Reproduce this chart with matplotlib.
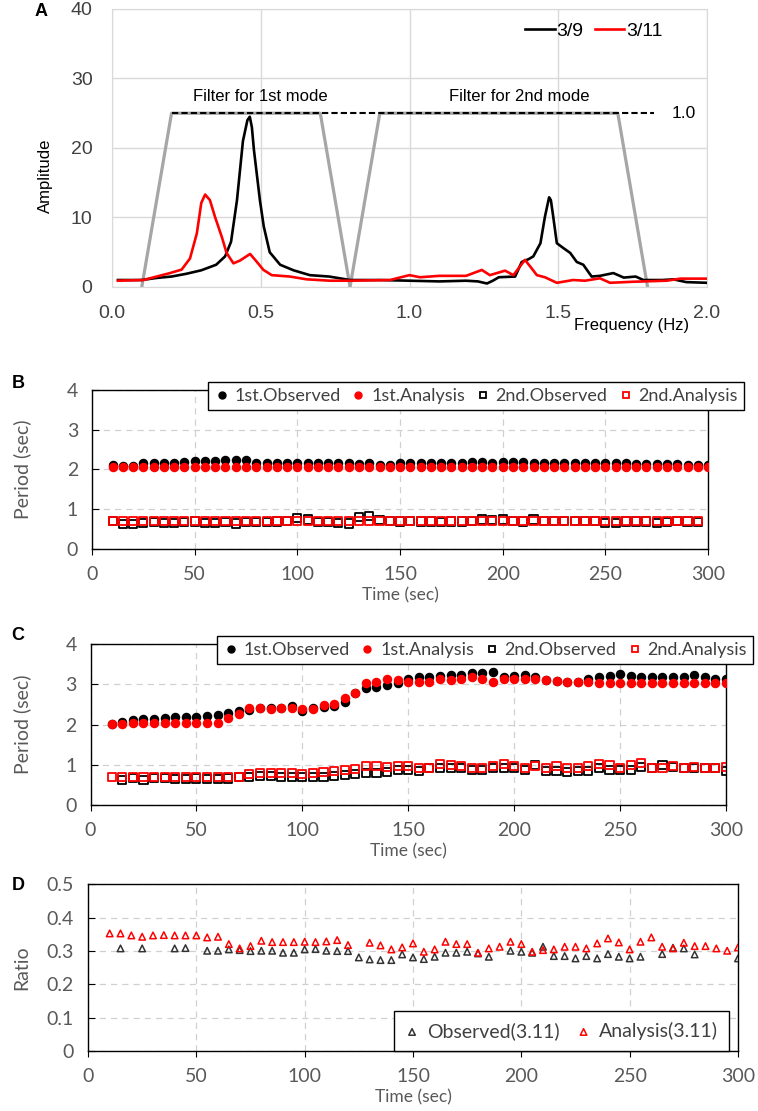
import numpy as np
import matplotlib
matplotlib.use("Agg")
import matplotlib.pyplot as plt
from matplotlib.lines import Line2D

# -------------------------------------------------------------------
# Panel A: Fourier spectra
# -------------------------------------------------------------------
freq_0309 = [0.02, 0.05, 0.10, 0.15, 0.20, 0.25, 0.30, 0.35, 0.38, 0.40, 0.42, 0.44, 0.455,
             0.463, 0.47, 0.477, 0.497, 0.51, 0.53, 0.565, 0.61, 0.665, 0.73, 0.80, 0.90,
             1.00, 1.10, 1.19, 1.23, 1.26, 1.28, 1.30, 1.355, 1.377, 1.40, 1.416, 1.44,
             1.455, 1.469, 1.475, 1.483, 1.495, 1.517, 1.54, 1.562, 1.584, 1.612, 1.64,
             1.685, 1.72, 1.76, 1.786, 1.85, 1.887, 1.93, 2.00]
amp_0309 = [1.0, 1.0, 1.0, 1.3, 1.5, 1.9, 2.4, 3.2, 4.4, 6.5, 12.5, 21.0, 24.0,
            24.5, 23.0, 19.7, 12.5, 8.7, 5.0, 3.2, 2.4, 1.7, 1.5, 1.0, 1.0,
            0.9, 0.8, 0.9, 0.8, 0.5, 0.9, 1.4, 1.5, 3.6, 4.0, 4.4, 6.3,
            10.1, 12.9, 12.5, 10.1, 6.3, 5.6, 4.9, 3.6, 3.2, 1.5, 1.6,
            2.0, 1.35, 1.5, 1.0, 1.0, 1.1, 0.7, 0.6]

freq_0311 = [0.02, 0.105, 0.15, 0.195, 0.234, 0.262, 0.285, 0.30, 0.313, 0.329, 0.346, 0.369,
             0.385, 0.408, 0.43, 0.464, 0.486, 0.509, 0.537, 0.598, 0.654, 0.733, 0.80,
             0.934, 0.99, 1.00, 1.035, 1.10, 1.19, 1.243, 1.27, 1.321, 1.349, 1.388, 1.41,
             1.428, 1.455, 1.495, 1.55, 1.59, 1.64, 1.674, 1.75, 1.864, 1.91, 2.00]
amp_0311 = [0.9, 1.0, 1.5, 2.0, 2.5, 4.1, 7.7, 12.1, 13.3, 12.5, 10.1, 7.2,
            4.9, 3.4, 3.8, 4.75, 3.65, 2.45, 1.7, 1.5, 1.1, 0.9, 0.9,
            1.0, 1.6, 1.7, 1.4, 1.6, 1.6, 2.45, 1.7, 2.35, 1.7, 3.9, 2.7,
            1.7, 1.4, 0.6, 1.0, 0.9, 1.25, 0.6, 0.75, 0.9, 1.2, 1.2]

# band-pass filter shapes
filt1_f = [0.1, 0.2, 0.7, 0.8]
filt2_f = [0.8, 0.9, 1.7, 1.8]
filt_amp = [0, 25, 25, 0]

# -------------------------------------------------------------------
# Panels B-D: time histories every 5 s
# -------------------------------------------------------------------
time_s = list(range(10, 305, 5))

# B: 3/9 record
b_1st_obs = [2.12, 2.09, 2.09, 2.16, 2.16, 2.16, 2.17, 2.20, 2.21, 2.21, 2.21, 2.23, 2.23, 2.25,
             2.15, 2.16, 2.15, 2.15, 2.15, 2.17, 2.17, 2.17, 2.16, 2.16, 2.14, 2.16, 2.12, 2.12,
             2.15, 2.15, 2.16, 2.17, 2.17, 2.17, 2.17, 2.20, 2.20, 2.17, 2.19, 2.20, 2.18, 2.17,
             2.16, 2.16, 2.16, 2.15, 2.15, 2.16, 2.15, 2.15, 2.15, 2.14, 2.14, 2.13, 2.14, 2.14,
             2.12, 2.12, 2.10]
b_1st_ana = [2.05, 2.05, 2.05, 2.05, 2.05, 2.05, 2.05, 2.05, 2.05, 2.05, 2.05, 2.05, 2.05, 2.05,
             2.05, 2.05, 2.05, 2.05, 2.05, 2.05, 2.05, 2.05, 2.05, 2.05, 2.05, 2.05, 2.05, 2.05,
             2.05, 2.05, 2.05, 2.05, 2.05, 2.05, 2.05, 2.05, 2.05, 2.05, 2.05, 2.05, 2.05, 2.05,
             2.05, 2.05, 2.05, 2.05, 2.05, 2.05, 2.05, 2.05, 2.05, 2.05, 2.05, 2.05, 2.05, 2.05,
             2.05, 2.05, 2.05]
b_2nd_obs = [0.70, 0.63, 0.63, 0.66, 0.68, 0.65, 0.65, 0.68, 0.69, 0.66, 0.65, 0.68, 0.64, 0.67,
             0.68, 0.68, 0.69, 0.70, 0.78, 0.74, 0.67, 0.67, 0.66, 0.64, 0.80, 0.82, 0.72, 0.70,
             0.69, 0.70, 0.69, 0.69, 0.67, 0.69, 0.69, 0.70, 0.74, 0.72, 0.74, 0.70, 0.69, 0.74,
             0.70, 0.70, 0.70, 0.70, 0.70, 0.70, 0.65, 0.66, 0.69, 0.69, 0.69, 0.66, 0.68, 0.70,
             0.69, 0.68, np.nan]
b_2nd_ana = [0.71, 0.71, 0.71, 0.71, 0.71, 0.71, 0.71, 0.71, 0.71, 0.71, 0.71, 0.71, 0.71, 0.71,
             0.71, 0.71, 0.71, 0.71, 0.71, 0.71, 0.71, 0.71, 0.71, 0.71, 0.71, 0.71, 0.71, 0.71,
             0.71, 0.71, 0.71, 0.71, 0.71, 0.71, 0.71, 0.71, 0.71, 0.71, 0.71, 0.71, 0.71, 0.71,
             0.71, 0.71, 0.71, 0.71, 0.71, 0.71, 0.71, 0.71, 0.71, 0.71, 0.71, 0.71, 0.71, 0.71,
             0.71, 0.71, np.nan]

# C: 3/11 record
c_1st_obs = [2.02, 2.07, 2.11, 2.13, 2.15, 2.16, 2.18, 2.18, 2.19, 2.21, 2.23, 2.29, 2.34, 2.36,
             2.41, 2.40, 2.41, 2.46, 2.34, 2.40, 2.44, 2.47, 2.56, 2.79, 2.91, 2.94, 2.99, 3.04,
             3.14, 3.18, 3.18, 3.21, 3.24, 3.24, 3.27, 3.27, 3.31, 3.18, 3.20, 3.23, 3.18, 3.10,
             3.08, 3.06, 3.06, 3.14, 3.18, 3.21, 3.25, 3.20, 3.18, 3.18, 3.18, 3.18, 3.18, 3.23,
             3.18, 3.14, 3.14]
c_1st_ana = [2.01, 2.02, 2.04, 2.04, 2.04, 2.03, 2.03, 2.03, 2.03, 2.03, 2.03, 2.17, 2.26, 2.42,
             2.41, 2.39, 2.42, 2.42, 2.38, 2.39, 2.48, 2.51, 2.65, 2.78, 3.02, 3.05, 3.12, 3.10,
             3.06, 3.06, 3.06, 3.12, 3.10, 3.12, 3.18, 3.12, 3.06, 3.12, 3.12, 3.14, 3.12, 3.10,
             3.08, 3.06, 3.06, 3.06, 3.04, 3.04, 3.04, 3.04, 3.04, 3.04, 3.04, 3.04, 3.04, 3.04,
             3.04, 3.04, 3.04]
c_2nd_obs = [np.nan, 0.62, 0.68, 0.62, 0.68, 0.68, 0.64, 0.64, 0.66, 0.64, 0.64, 0.66, 0.69, 0.69,
             0.72, 0.72, 0.70, 0.70, 0.69, 0.70, 0.70, 0.72, 0.74, 0.76, 0.79, 0.79, 0.81, 0.87,
             0.88, 0.85, 0.91, 0.91, 0.92, 0.91, 0.88, 0.87, 0.91, 0.93, 0.91, 0.88, 0.99, 0.85,
             0.85, 0.83, 0.85, 0.85, 0.91, 0.87, 0.88, 0.87, 0.95, 0.91, 0.99, 0.95, 0.91, 0.93,
             0.93, 0.93, 0.85]
c_2nd_ana = [0.70, 0.70, 0.70, 0.70, 0.70, 0.70, 0.70, 0.70, 0.70, 0.69, 0.69, 0.70, 0.70, 0.77,
             0.79, 0.79, 0.79, 0.79, 0.77, 0.79, 0.81, 0.84, 0.87, 0.89, 0.97, 0.97, 0.95, 0.97,
             0.97, 0.91, 0.93, 1.02, 0.99, 0.97, 0.93, 0.93, 0.97, 1.02, 0.97, 0.93, 0.97, 0.91,
             0.97, 0.93, 0.93, 0.97, 1.03, 0.99, 0.91, 0.99, 1.05, 0.91, 0.93, 0.97, 0.93, 0.95,
             0.93, 0.91, 0.95]

# D: ratio of periods (2nd / 1st)
d_obs = [np.nan, 0.308, np.nan, 0.308, np.nan, np.nan, 0.308, 0.309, np.nan, 0.301, 0.301, 0.305,
         0.303, 0.300, 0.301, 0.301, 0.295, 0.295, 0.305, 0.306, 0.301, 0.300, 0.300, 0.281,
         0.275, 0.273, 0.273, 0.290, 0.281, 0.276, 0.283, 0.295, 0.295, 0.298, 0.293, 0.283,
         np.nan, 0.301, 0.298, 0.295, 0.313, 0.285, 0.285, 0.278, 0.285, 0.278, 0.291, 0.283,
         0.278, 0.283, np.nan, 0.291, 0.310, 0.308, 0.290, np.nan, np.nan, np.nan, 0.278]
d_ana = [0.353, 0.353, 0.347, 0.343, 0.347, 0.348, 0.347, 0.347, 0.347, 0.341, 0.343, 0.321,
         0.308, 0.315, 0.331, 0.327, 0.327, 0.327, 0.328, 0.327, 0.329, 0.333, 0.318, np.nan,
         0.325, 0.317, 0.305, 0.311, 0.323, 0.298, 0.305, 0.328, 0.321, 0.321, 0.295, 0.308,
         0.313, 0.328, 0.321, 0.298, 0.303, 0.305, 0.313, 0.313, 0.308, 0.323, 0.338, 0.326,
         0.305, 0.328, 0.341, 0.313, 0.308, 0.325, 0.315, 0.315, 0.308, 0.301, 0.311]

RED = '#FF0000'
GRAY_TXT = '#595959'
ARIAL = ['Liberation Sans', 'DejaVu Sans']
SANS = ['Lato', 'DejaVu Sans']

fig = plt.figure(figsize=(7.58, 11.11), dpi=100)

# ---------------------------- Panel A ------------------------------
axA = fig.add_axes([0.1478, 0.7417, 0.785, 0.2502])
axA.plot(filt1_f, filt_amp, color='#A6A6A6', lw=2.3, zorder=2)
axA.plot(filt2_f, filt_amp, color='#A6A6A6', lw=2.3, zorder=2)
axA.plot([0.2, 1.82], [25, 25], color='black', lw=1.5, ls=(0, (3, 1.5)), zorder=3)
axA.plot(freq_0309, amp_0309, color='black', lw=1.9, label='3/9', zorder=4)
axA.plot(freq_0311, amp_0311, color=RED, lw=1.9, label='3/11', zorder=5)

axA.set_xlim(0, 2.0)
axA.set_ylim(0, 40)
axA.set_xticks([0.0, 0.5, 1.0, 1.5, 2.0])
axA.set_xticklabels(['0.0', '0.5', '1.0', '1.5', '2.0'])
axA.set_yticks([0, 10, 20, 30, 40])
axA.grid(True, color='#D9D9D9', lw=1.0)
axA.set_axisbelow(True)
for sp in axA.spines.values():
    sp.set_color('#D9D9D9')
axA.tick_params(axis='x', length=0, labelsize=14, colors='#404040', pad=13)
axA.tick_params(axis='y', length=0, labelsize=14, colors='#404040', pad=14)
for lab in axA.get_xticklabels() + axA.get_yticklabels():
    lab.set_family(ARIAL)

axA.text(0.5, 27.4, 'Filter for 1st mode', ha='center', va='center', fontsize=12,
         family=ARIAL)
axA.text(1.37, 27.4, 'Filter for 2nd mode', ha='center', va='center', fontsize=12,
         family=ARIAL)
axA.text(1.92, 25, '1.0', ha='center', va='center', fontsize=12.5, family=ARIAL)
axA.text(1.745, -5.6, 'Frequency (Hz)', ha='center', va='center', fontsize=12,
         family=ARIAL)
axA.text(-0.225, 16, 'Amplitude', ha='center', va='center', rotation=90, fontsize=12,
         family=ARIAL)
axA.legend(loc='upper right', bbox_to_anchor=(0.955, 1.015), ncol=2, frameon=False,
           handlelength=1.5, handletextpad=0.1, columnspacing=0.6,
           prop={'family': ARIAL, 'size': 14})


def style_time_axis(ax, xlab_y, ylab_x, ylabel):
    ax.set_xlim(0, 300)
    ax.set_xticks(range(0, 301, 50))
    ax.grid(True, color='#D0D0D0', ls=(0, (5, 4)), lw=0.9)
    ax.set_axisbelow(True)
    for sp in ax.spines.values():
        sp.set_color('black')
        sp.set_linewidth(1.0)
    ax.tick_params(axis='x', direction='out', length=4, color='black',
                   labelsize=14, labelcolor=GRAY_TXT, pad=8)
    ax.tick_params(axis='y', direction='in', length=5, color='black',
                   labelsize=14, labelcolor=GRAY_TXT, pad=10)
    for lab in ax.get_xticklabels() + ax.get_yticklabels():
        lab.set_family(SANS)
    ax.set_xlabel('Time (sec)', fontsize=12.5, color=GRAY_TXT, family=SANS)
    ax.xaxis.set_label_coords(0.5, xlab_y)
    ax.xaxis.label.set_va('center')
    ax.set_ylabel(ylabel, fontsize=14, color=GRAY_TXT, family=SANS)
    ax.yaxis.set_label_coords(ylab_x, 0.5)
    ax.yaxis.label.set_va('center')


# --------------------------- Panels B, C ---------------------------
def period_panel(rect, obs1, ana1, obs2, ana2, leg_anchor, xlab_y, ylab_x):
    ax = fig.add_axes(rect)
    ax.scatter(time_s, obs1, s=34, marker='o', color='black', zorder=3)
    ax.scatter(time_s, ana1, s=34, marker='o', color=RED, zorder=4)
    ax.scatter(time_s, obs2, s=34, marker='s', facecolor='none', edgecolor='black',
               linewidth=1.3, zorder=3)
    ax.scatter(time_s, ana2, s=34, marker='s', facecolor='none', edgecolor=RED,
               linewidth=1.3, zorder=4)
    ax.set_ylim(0, 4)
    ax.set_yticks([0, 1, 2, 3, 4])
    style_time_axis(ax, xlab_y, ylab_x, 'Period (sec)')

    handles = [
        Line2D([], [], ls='none', marker='o', ms=5, color='black'),
        Line2D([], [], ls='none', marker='o', ms=5, color=RED),
        Line2D([], [], ls='none', marker='s', ms=5, mfc='none', mec='black', mew=1.3),
        Line2D([], [], ls='none', marker='s', ms=5, mfc='none', mec=RED, mew=1.3),
    ]
    labels = ['1st.Observed', '1st.Analysis', '2nd.Observed', '2nd.Analysis']
    leg = fig.legend(handles, labels, loc='center', bbox_to_anchor=leg_anchor, ncol=4,
                     fancybox=False, edgecolor='black', framealpha=1,
                     handlelength=0.8, handletextpad=0.3, columnspacing=0.6,
                     borderpad=0.35, prop={'family': SANS, 'size': 13})
    leg.get_frame().set_linewidth(1.0)
    for t in leg.get_texts():
        t.set_color('#404040')
    return ax


axB = period_panel([0.1214, 0.5059, 0.8127, 0.1431], b_1st_obs, b_1st_ana,
                   b_2nd_obs, b_2nd_ana, (476 / 758, 1 - 396 / 1111), -0.289, -0.114)
axC = period_panel([0.1194, 0.2754, 0.8384, 0.1449], c_1st_obs, c_1st_ana,
                   c_2nd_obs, c_2nd_ana, (485 / 758, 1 - 650 / 1111), -0.286, -0.108)

# ---------------------------- Panel D ------------------------------
axD = fig.add_axes([0.1161, 0.054, 0.8575, 0.1499])
axD.scatter(time_s, d_obs, s=22, marker='^', facecolor='none', edgecolor='#333333',
            linewidth=1.1, zorder=3, label='Observed(3.11)')
axD.scatter(time_s, d_ana, s=22, marker='^', facecolor='none', edgecolor=RED,
            linewidth=1.1, zorder=4, label='Analysis(3.11)')
axD.set_ylim(0, 0.5)
axD.set_yticks([0, 0.1, 0.2, 0.3, 0.4, 0.5])
axD.set_yticklabels(['0', '0.1', '0.2', '0.3', '0.4', '0.5'])
style_time_axis(axD, -0.276, -0.1015, 'Ratio')
legD = axD.legend(loc='center', bbox_to_anchor=(0.728, 0.12), ncol=2, fancybox=False,
                  edgecolor='black', framealpha=1, handlelength=0.8, handletextpad=0.4,
                  columnspacing=0.8, borderpad=0.55, prop={'family': SANS, 'size': 14})
for t in legD.get_texts():
    t.set_color('#404040')

# panel letters
for letter, x, y in [('A', 41, 12), ('B', 18, 383), ('C', 18, 636), ('D', 18, 886)]:
    fig.text(x / 758, 1 - y / 1111, letter, fontsize=13, fontweight='bold',
             ha='center', va='center', family=ARIAL)

fig.savefig('out.png', dpi=100)
